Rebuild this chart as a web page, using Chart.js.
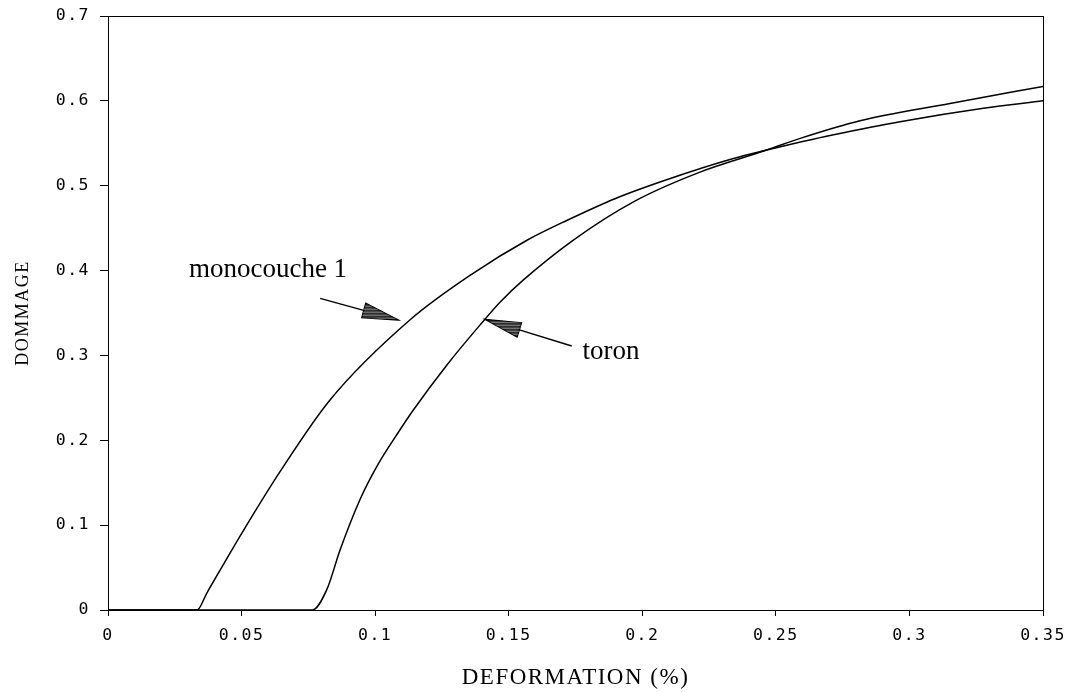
<!DOCTYPE html>
<html>
<head>
<meta charset="utf-8">
<script src="https://cdn.jsdelivr.net/npm/chart.js@4/dist/chart.umd.min.js"></script>
<style>
  html, body { margin: 0; padding: 0; background: #fff; }
  #wrap { width: 1070px; height: 692px; }
</style>
</head>
<body>
<div id="wrap"><canvas id="c" width="1070" height="692"></canvas></div>
<script>
// ---- data ----
const monoX = [0, 0.0333, 0.037, 0.050, 0.0644, 0.0831, 0.1131, 0.1368, 0.157, 0.1717, 0.190, 0.2091, 0.2341, 0.2466, 0.260, 0.2716, 0.2965, 0.3277, 0.350];
const monoY = [0, 0, 0.020, 0.090, 0.163, 0.2475, 0.342, 0.397, 0.436, 0.459, 0.485, 0.507, 0.532, 0.542, 0.552, 0.560, 0.5754, 0.5912, 0.600];
const toronX = [0, 0.0765, 0.0819, 0.0869, 0.0943, 0.1006, 0.1087, 0.1143, 0.1268, 0.1393, 0.147, 0.1555, 0.1742, 0.1967, 0.2216, 0.2466, 0.2591, 0.2815, 0.3152, 0.350];
const toronY = [0, 0, 0.024, 0.071, 0.130, 0.169, 0.2095, 0.2357, 0.2885, 0.336, 0.3635, 0.389, 0.436, 0.481, 0.516, 0.542, 0.5558, 0.5766, 0.597, 0.617];
const xTickLabels = ['0', '0.05', '0.1', '0.15', '0.2', '0.25', '0.3', '0.35'];
const yTickLabels = ['0', '0.1', '0.2', '0.3', '0.4', '0.5', '0.6', '0.7'];
const labelTexts = ['monocouche 1', 'toron'];
const labelX = [0.0599, 0.1883];
const labelY = [0.4007, 0.304];
const arrowFromX = [0.0794, 0.1736];
const arrowFromY = [0.3673, 0.3111];
const arrowToX = [0.1087, 0.1411];
const arrowToY = [0.3417, 0.3426];

const toPoints = (xs, ys) => xs.map((x, i) => ({x: x, y: ys[i]}));

const framePlugin = {
  id: 'frame',
  beforeDraw(chart) { chart.ctx.letterSpacing = '1.5px'; },
  afterDraw(chart) {
    const {ctx, chartArea: a, scales} = chart;
    ctx.save();
    ctx.letterSpacing = '0px';
    ctx.strokeStyle = '#000';
    ctx.lineWidth = 1;
    ctx.strokeRect(a.left + 0.5, a.top + 0.5, a.right - a.left, a.bottom - a.top);
    // annotation arrows
    for (let i = 0; i < arrowFromX.length; i++) {
      const x0 = scales.x.getPixelForValue(arrowFromX[i]);
      const y0 = scales.y.getPixelForValue(arrowFromY[i]);
      const x1 = scales.x.getPixelForValue(arrowToX[i]);
      const y1 = scales.y.getPixelForValue(arrowToY[i]);
      const ang = Math.atan2(y1 - y0, x1 - x0);
      const len = 36, hw = 7.5;
      const bx = x1 - len * Math.cos(ang), by = y1 - len * Math.sin(ang);
      ctx.strokeStyle = '#000';
      ctx.lineWidth = 1.4;
      ctx.beginPath(); ctx.moveTo(x0, y0); ctx.lineTo(bx, by); ctx.stroke();
      const px = -Math.sin(ang) * hw, py = Math.cos(ang) * hw;
      ctx.save();
      ctx.beginPath();
      ctx.moveTo(x1, y1);
      ctx.lineTo(bx + px, by + py);
      ctx.lineTo(bx - px, by - py);
      ctx.closePath();
      ctx.fillStyle = '#2e2e2e';
      ctx.fill();
      ctx.lineWidth = 1.2;
      ctx.stroke();
      ctx.clip();
      ctx.strokeStyle = 'rgba(255,255,255,0.55)';
      ctx.lineWidth = 0.8;
      const top = Math.min(y1, by + py, by - py), bot = Math.max(y1, by + py, by - py);
      const left = Math.min(x1, bx + px, bx - px), right = Math.max(x1, bx + px, bx - px);
      for (let yy = top + 3; yy < bot - 1; yy += 3) {
        ctx.beginPath(); ctx.moveTo(left, yy); ctx.lineTo(right, yy); ctx.stroke();
      }
      ctx.restore();
    }
    // annotation texts
    ctx.fillStyle = '#000';
    ctx.font = '27px "Liberation Serif", "Times New Roman", serif';
    ctx.textAlign = 'center';
    ctx.textBaseline = 'middle';
    for (let i = 0; i < labelTexts.length; i++) {
      ctx.fillText(labelTexts[i], scales.x.getPixelForValue(labelX[i]), scales.y.getPixelForValue(labelY[i]));
    }
    ctx.restore();
    ctx.letterSpacing = '0px';
  }
};

const tickFont = {family: '"DejaVu Sans Mono", "Liberation Mono", monospace', size: 16.5};

new Chart(document.getElementById('c'), {
  type: 'scatter',
  data: {
    datasets: [
      {label: 'monocouche 1', data: toPoints(monoX, monoY), showLine: true, borderColor: '#000', borderWidth: 1.5, pointRadius: 0, cubicInterpolationMode: 'monotone', fill: false},
      {label: 'toron', data: toPoints(toronX, toronY), showLine: true, borderColor: '#000', borderWidth: 1.5, pointRadius: 0, cubicInterpolationMode: 'monotone', fill: false}
    ]
  },
  options: {
    responsive: false,
    animation: false,
    devicePixelRatio: 1,
    layout: {padding: {top: 16, right: 27, left: 0, bottom: 0}},
    plugins: {legend: {display: false}, tooltip: {enabled: false}},
    scales: {
      x: {
        type: 'linear', min: 0, max: 0.35,
        afterFit(s) { s.height = 82; s.paddingLeft = 0; s.paddingRight = 0; },
        ticks: {stepSize: 0.05, color: '#000', font: tickFont, padding: 10, maxRotation: 0,
          callback: (v, i) => xTickLabels[i]},
        grid: {drawOnChartArea: false, tickLength: 6, color: '#000'},
        border: {color: '#000', width: 1},
        title: {display: true, text: 'DEFORMATION (%)', color: '#000',
          font: {family: '"Liberation Serif", "Times New Roman", serif', size: 23}, padding: {top: 0, bottom: 0}}
      },
      y: {
        type: 'linear', min: 0, max: 0.7,
        afterFit(s) { s.width = 108; s.paddingTop = 0; s.paddingBottom = 0; },
        ticks: {stepSize: 0.1, color: '#000', font: tickFont, padding: 10,
          callback: (v, i) => yTickLabels[i]},
        grid: {drawOnChartArea: false, tickLength: 8, color: '#000'},
        border: {color: '#000', width: 1},
        title: {display: true, text: 'DOMMAGE', color: '#000',
          font: {family: '"Liberation Serif", "Times New Roman", serif', size: 18}, padding: {top: 12, bottom: 0}}
      }
    }
  },
  plugins: [framePlugin]
});
</script>
</body>
</html>
